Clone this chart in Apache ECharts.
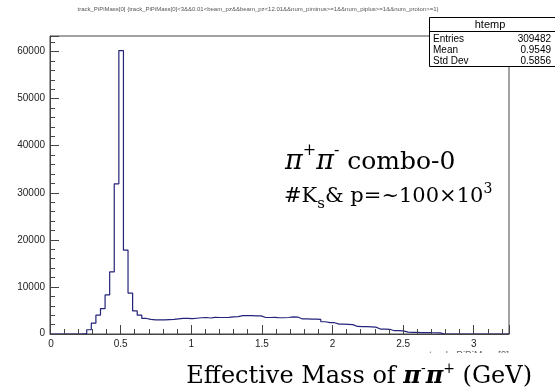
<!DOCTYPE html>
<html>
<head>
<meta charset="utf-8">
<script src="https://cdn.jsdelivr.net/npm/echarts@6/dist/echarts.min.js"></script>
<style>
  html, body { margin: 0; padding: 0; background: #fff; }
  #chart { width: 555px; height: 392px; }
</style>
</head>
<body>
<div id="chart"></div>
<script>
// Histogram of track_PiPiMass[0]: 100 bins of width 0.0325 GeV starting at 0
const binStart = 0;
const binWidth = 0.0325;
const counts = [
  0, 0, 0, 0, 0, 0, 0, 100, 900, 2300,
  4000, 5400, 8300, 13200, 31900, 60200, 17800, 8700, 4900, 4000,
  3300, 3100, 3000, 3000, 3000, 3050, 3100, 3200, 3300, 3300,
  3250, 3350, 3450, 3500, 3400, 3550, 3500, 3500, 3550, 3650,
  3700, 3900, 3900, 3900, 3850, 3850, 3500, 3500, 3550, 3450,
  3450, 3500, 3650, 3600, 3200, 3200, 3150, 3150, 3100, 2600,
  2400, 2400, 2100, 2100, 2050, 2000, 1600, 1550, 1550, 1500,
  1450, 1050, 1050, 1000, 700, 700, 680, 400, 350, 330,
  300, 300, 280, 270, 250, 0, 0, 0, 0, 0,
  0, 0, 0, 0, 0, 0, 0, 0, 0, 0
];
const xTicks = [0, 0.5, 1, 1.5, 2, 2.5, 3];
const yTicks = [0, 10000, 20000, 30000, 40000, 50000, 60000];

const statsName = 'htemp';
const statsRows = [
  ['Entries', '309482'],
  ['Mean', '0.9549'],
  ['Std Dev', '0.5856']
];
const titleText = 'track_PiPiMass[0] {track_PiPiMass[0]<3&&0.01<beam_pz&&beam_pz<12.01&&num_piminus>=1&&num_piplus>=1&&num_proton>=1}';
const xAxisName = 'track_PiPiMass[0]';

// step outline: one point per bin low edge, plus the closing edge
const points = counts.map((c, i) => [binStart + i * binWidth, c]);
points.push([binStart + counts.length * binWidth, counts[counts.length - 1]]);

const sans = 'Liberation Sans, Arial, Helvetica, sans-serif';
const serif = '"DejaVu Serif", "Liberation Serif", serif';

// lay out a run of text pieces on one baseline (super/subscripts via dy)
const measureCtx = document.createElement('canvas').getContext('2d');
function textRun(x, baseline, pieces, align) {
  const widths = pieces.map(p => { measureCtx.font = p.font; return measureCtx.measureText(p.t).width; });
  const total = widths.reduce((a, b) => a + b, 0);
  let cx = align === 'right' ? x - total : (align === 'center' ? x - total / 2 : x);
  return pieces.map((p, i) => {
    const size = parseFloat(p.font.match(/(\d+(\.\d+)?)px/)[1]);
    const el = {
      type: 'text', x: cx, y: baseline + (p.dy || 0) - 0.3 * size, z: 12,
      style: { text: p.t, font: p.font, fill: '#000', textAlign: 'left', textVerticalAlign: 'middle' }
    };
    cx += widths[i];
    return el;
  });
}

const chart = echarts.init(document.getElementById('chart'), null, { renderer: 'canvas' });

const statsGraphics = [
  { type: 'rect', shape: { x: 429.5, y: 17.5, width: 140, height: 49 },
    style: { fill: '#fff', stroke: '#000', lineWidth: 1 }, z: 20 },
  { type: 'line', shape: { x1: 429.5, y1: 31.5, x2: 555, y2: 31.5 },
    style: { stroke: '#000', lineWidth: 1 }, z: 21 },
  { type: 'text', x: 490, y: 24.5, z: 21,
    style: { text: statsName, font: '11px ' + sans, fill: '#000', textAlign: 'center', textVerticalAlign: 'middle' } }
];
statsRows.forEach((r, i) => {
  statsGraphics.push({ type: 'text', x: 433, y: 39 + i * 11, z: 21,
    style: { text: r[0], font: '10px ' + sans, fill: '#000', textAlign: 'left', textVerticalAlign: 'middle' } });
  statsGraphics.push({ type: 'text', x: 551, y: 39 + i * 11, z: 21,
    style: { text: r[1], font: '10px ' + sans, fill: '#000', textAlign: 'right', textVerticalAlign: 'middle' } });
});

const captionPieces = [
  { t: 'Effective Mass of ', font: '24px ' + serif },
  { t: 'π', font: 'italic bold 24px ' + serif },
  { t: '-', font: '14px ' + serif, dy: -10 },
  { t: 'π', font: 'italic bold 24px ' + serif },
  { t: '+', font: '14px ' + serif, dy: -10 },
  { t: ' (GeV)', font: '24px ' + serif }
];
const line1Pieces = [
  { t: 'π', font: 'italic 27px ' + serif },
  { t: '+', font: '16px ' + serif, dy: -14 },
  { t: 'π', font: 'italic 27px ' + serif },
  { t: '-', font: '16px ' + serif, dy: -14 },
  { t: ' combo-0', font: '25px ' + serif }
];
const line2Pieces = [
  { t: '#K', font: '21px ' + serif },
  { t: 's', font: '15px ' + serif, dy: 6 },
  { t: '& p=~100×10', font: '21px ' + serif },
  { t: '3', font: '14px ' + serif, dy: -9 }
];

chart.setOption({
  animation: false,
  backgroundColor: '#fff',
  grid: { left: 50, top: 36, width: 459, height: 298, show: true, borderColor: '#444', borderWidth: 1, backgroundColor: 'transparent' },
  xAxis: {
    type: 'value', min: 0, max: 3.25, interval: 0.5,
    z: 5,
    axisLine: { show: true, lineStyle: { color: '#444', width: 1 } },
    axisTick: { show: true, inside: true, length: 9, lineStyle: { color: '#444' } },
    minorTick: { show: true, splitNumber: 5, length: 5, lineStyle: { color: '#444' } },
    splitLine: { show: false },
    axisLabel: {
      showMaxLabel: false, margin: 5, color: '#222', fontFamily: sans, fontSize: 10,
      formatter: v => {
        const r = Math.round(v * 10) / 10;
        return xTicks.indexOf(r) > 0 ? String(r) : '';
      }
    }
  },
  yAxis: {
    type: 'value', min: 0, max: 63300, interval: 10000,
    z: 5,
    axisLine: { show: true, lineStyle: { color: '#444', width: 1 } },
    axisTick: { show: true, inside: true, length: 9, lineStyle: { color: '#444' } },
    minorTick: { show: true, splitNumber: 5, length: 5, lineStyle: { color: '#444' } },
    splitLine: { show: false },
    axisLabel: {
      showMaxLabel: false, margin: 5, color: '#222', fontFamily: sans, fontSize: 10,
      formatter: v => (yTicks.indexOf(v) > 0 ? String(v) : '')
    }
  },
  series: [{
    type: 'line', step: 'end', data: points, symbol: 'none', clip: true,
    lineStyle: { color: '#23237a', width: 1.2 }, z: 3
  }],
  graphic: [
    // event selection title
    { type: 'text', x: 258, y: 9, z: 10,
      style: { text: titleText, font: '6px ' + sans, fill: '#555', textAlign: 'center', textVerticalAlign: 'middle' } },
    // origin labels as drawn by the frame
    { type: 'text', x: 45, y: 333, z: 10,
      style: { text: '0', font: '10px ' + sans, fill: '#222', textAlign: 'right', textVerticalAlign: 'middle' } },
    { type: 'text', x: 51, y: 344, z: 10,
      style: { text: '0', font: '10px ' + sans, fill: '#222', textAlign: 'center', textVerticalAlign: 'middle' } },
    // axis variable name, partly hidden by the caption box below
    { type: 'text', x: 509, y: 356, z: 10,
      style: { text: xAxisName, font: '10px ' + sans, fill: '#666', textAlign: 'right', textVerticalAlign: 'middle' } },
    { type: 'rect', shape: { x: 150, y: 353, width: 405, height: 39 }, style: { fill: '#fff' }, z: 11 }
  ]
    .concat(textRun(532, 384, captionPieces, 'right'))
    .concat(textRun(285, 170, line1Pieces, 'left'))
    .concat(textRun(284, 203, line2Pieces, 'left'))
    .concat(statsGraphics)
});
</script>
</body>
</html>
